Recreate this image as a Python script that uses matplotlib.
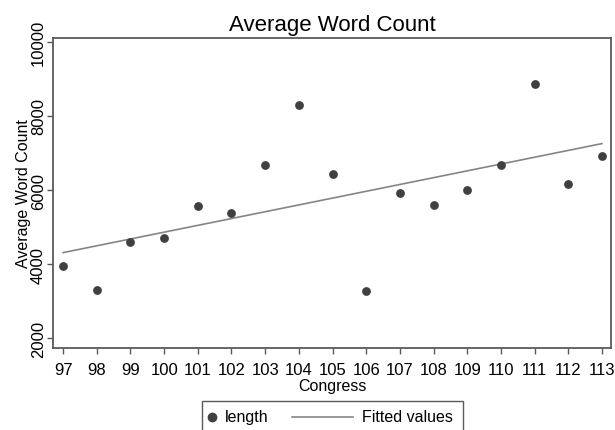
import matplotlib
matplotlib.use("Agg")
import matplotlib.pyplot as plt
from matplotlib.lines import Line2D
from matplotlib.patches import Rectangle

plt.rcParams["font.family"] = ["Liberation Sans", "DejaVu Sans"]

# data
congress = [97, 98, 99, 100, 101, 102, 103, 104, 105, 106, 107, 108, 109, 110, 111, 112, 113]
length = [3946, 3297, 4587, 4703, 5560, 5378, 6676, 8297, 6424, 3281,
          5911, 5587, 6000, 6676, 8876, 6154, 6930]
fit_congress = [97, 113]
fitted_values = [4308, 7254]
y_ticks = [2000, 4000, 6000, 8000, 10000]

W, H = 615, 431
fig = plt.figure(figsize=(W / 100, H / 100), dpi=100)
ax = fig.add_axes([53 / W, 1 - 349 / H, (611 - 53) / W, (349 - 39) / H])

point_color = "#404040"
line_color = "#858585"
axis_color = "#5a5a5a"

ax.scatter(congress, length, s=40, color=point_color, zorder=3, linewidths=0)
ax.plot(fit_congress, fitted_values, color=line_color, lw=1.2, zorder=2)

ax.set_xlim(96.70, 113.27)
ax.set_ylim(1730, 10108)
ax.set_xticks(congress)
ax.set_yticks(y_ticks)
ax.set_yticklabels([str(v) for v in y_ticks], rotation=90, va="center")

for s in ax.spines.values():
    s.set_color(axis_color)
    s.set_linewidth(1.3)
ax.tick_params(axis="both", length=4.5, width=1.0, color=axis_color,
               labelsize=12, labelcolor="black")
ax.tick_params(axis="y", pad=0.5)
ax.tick_params(axis="x", pad=5.5)

ax.set_title("Average Word Count", fontsize=16, pad=6)
ax.set_xlabel("Congress", fontsize=11.5, labelpad=0.5)
ax.set_ylabel("Average Word Count", fontsize=11.5, labelpad=0)


# legend drawn in figure pixels, bottom edge runs off the figure like the reference
def fx(px):
    return px / W


def fy(py):
    return 1 - py / H


fig.add_artist(Rectangle((fx(202), fy(440)), fx(463) - fx(202), fy(402) - fy(440),
                         transform=fig.transFigure, fill=False,
                         edgecolor=axis_color, linewidth=1.0, clip_on=False))
fig.add_artist(Line2D([fx(212)], [fy(418)], transform=fig.transFigure,
                      marker="o", markersize=6, color=point_color, linestyle="none"))
fig.text(fx(225), fy(418), "length", fontsize=11.5, va="center", ha="left")
fig.add_artist(Line2D([fx(292), fx(353)], [fy(418), fy(418)], transform=fig.transFigure,
                      color=line_color, lw=1.2))
fig.text(fx(362), fy(418), "Fitted values", fontsize=11.5, va="center", ha="left")

fig.savefig("out.png", dpi=100)
